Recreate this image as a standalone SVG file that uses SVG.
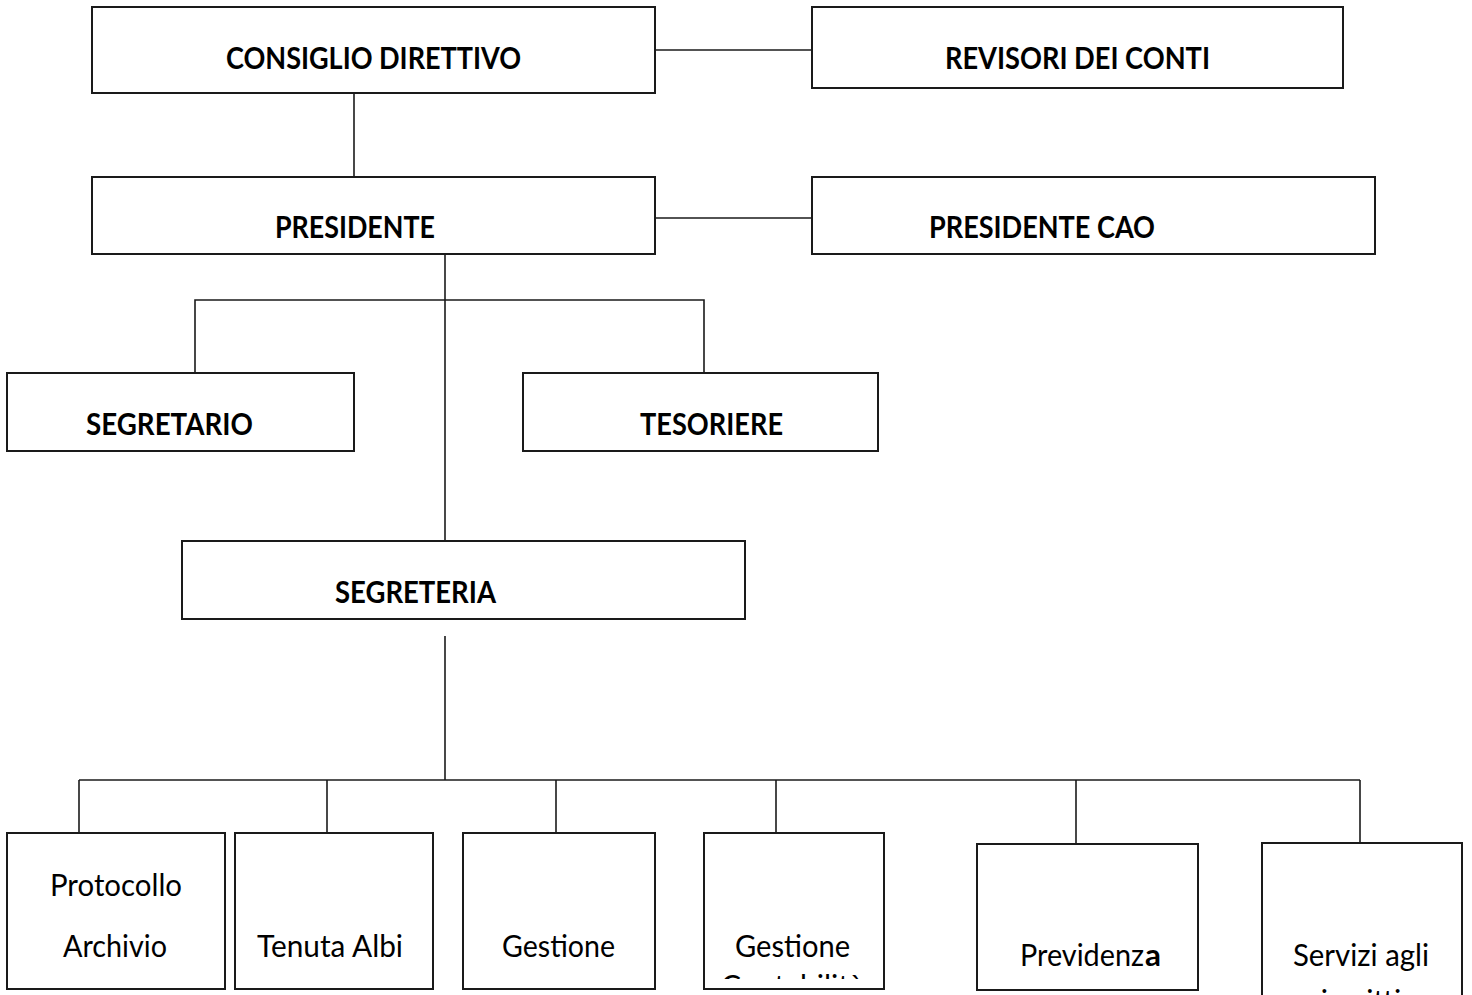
<svg xmlns="http://www.w3.org/2000/svg" width="1472" height="995" viewBox="0 0 1472 995">
<style>
.box{fill:#fff;stroke:#1a1a1a;stroke-width:2}
.ln{stroke:#1a1a1a;stroke-width:1.6;fill:none}
.b{font-family:Lato,"Liberation Sans",sans-serif;font-weight:bold;font-size:30px;fill:#000;text-anchor:middle}
.r{font-family:Lato,"Liberation Sans",sans-serif;font-size:30px;fill:#000;text-anchor:middle}
</style>
<defs>
<clipPath id="clipCont"><rect x="705" y="834" width="178" height="145"/></clipPath>
</defs>
<rect width="1472" height="995" fill="#fff"/>
<g id="connectors">
<line class="ln" x1="655" y1="50" x2="812" y2="50"/>
<line class="ln" x1="354" y1="93" x2="354" y2="177"/>
<line class="ln" x1="655" y1="218" x2="812" y2="218"/>
<line class="ln" x1="445" y1="254" x2="445" y2="541"/>
<polyline class="ln" points="195,373 195,300 704,300 704,373"/>
<line class="ln" x1="445" y1="636" x2="445" y2="780"/>
<line class="ln" x1="79" y1="780" x2="1360" y2="780"/>
<line class="ln" x1="79" y1="780" x2="79" y2="833"/>
<line class="ln" x1="327" y1="780" x2="327" y2="833"/>
<line class="ln" x1="556" y1="780" x2="556" y2="833"/>
<line class="ln" x1="776" y1="780" x2="776" y2="833"/>
<line class="ln" x1="1076" y1="780" x2="1076" y2="844"/>
<line class="ln" x1="1360" y1="780" x2="1360" y2="843"/>
</g>
<g id="consiglio"><rect class="box" x="92" y="7" width="563" height="86"/><text class="b" x="373.5" y="69" textLength="295" lengthAdjust="spacingAndGlyphs">CONSIGLIO DIRETTIVO</text></g>
<g id="revisori"><rect class="box" x="812" y="7" width="531" height="81"/><text class="b" x="1077.5" y="69" textLength="265" lengthAdjust="spacingAndGlyphs">REVISORI DEI CONTI</text></g>
<g id="presidente"><rect class="box" x="92" y="177" width="563" height="77"/><text class="b" x="355" y="238" textLength="160" lengthAdjust="spacingAndGlyphs">PRESIDENTE</text></g>
<g id="presidente-cao"><rect class="box" x="812" y="177" width="563" height="77"/><text class="b" x="1042" y="238" textLength="226" lengthAdjust="spacingAndGlyphs">PRESIDENTE CAO</text></g>
<g id="segretario"><rect class="box" x="7" y="373" width="347" height="78"/><text class="b" x="169.5" y="435" textLength="167" lengthAdjust="spacingAndGlyphs">SEGRETARIO</text></g>
<g id="tesoriere"><rect class="box" x="523" y="373" width="355" height="78"/><text class="b" x="711.5" y="435" textLength="143" lengthAdjust="spacingAndGlyphs">TESORIERE</text></g>
<g id="segreteria"><rect class="box" x="182" y="541" width="563" height="78"/><text class="b" x="415.5" y="603" textLength="161" lengthAdjust="spacingAndGlyphs">SEGRETERIA</text></g>
<g id="protocollo"><rect class="box" x="7" y="833" width="218" height="156"/><text class="r" x="116" y="896" textLength="132" lengthAdjust="spacingAndGlyphs">Protocollo</text><text class="r" x="115" y="957" textLength="104" lengthAdjust="spacingAndGlyphs">Archivio</text></g>
<g id="tenuta-albi"><rect class="box" x="235" y="833" width="198" height="156"/><text class="r" x="330" y="957" textLength="146" lengthAdjust="spacingAndGlyphs">Tenuta Albi</text></g>
<g id="gestione"><rect class="box" x="463" y="833" width="192" height="156"/><text class="r" x="558.5" y="957" textLength="113" lengthAdjust="spacingAndGlyphs">Gestione</text></g>
<g id="gestione-contabilita"><rect class="box" x="704" y="833" width="180" height="156"/><text class="r" x="792.5" y="957" textLength="115" lengthAdjust="spacingAndGlyphs">Gestione</text><text class="r" x="792.5" y="997" clip-path="url(#clipCont)">Contabilità</text></g>
<g id="previdenza"><rect class="box" x="977" y="844" width="221" height="146"/><text class="r" x="1020" y="966" style="text-anchor:start" textLength="124" lengthAdjust="spacingAndGlyphs">Previdenz</text><text class="b" x="1145" y="966" style="text-anchor:start" textLength="16" lengthAdjust="spacingAndGlyphs">a</text></g>
<g id="servizi"><rect class="box" x="1262" y="843" width="200" height="160"/><text class="r" x="1361" y="966" textLength="136" lengthAdjust="spacingAndGlyphs">Servizi agli</text><text class="r" x="1361" y="1012">iscritti</text></g>
</svg>
